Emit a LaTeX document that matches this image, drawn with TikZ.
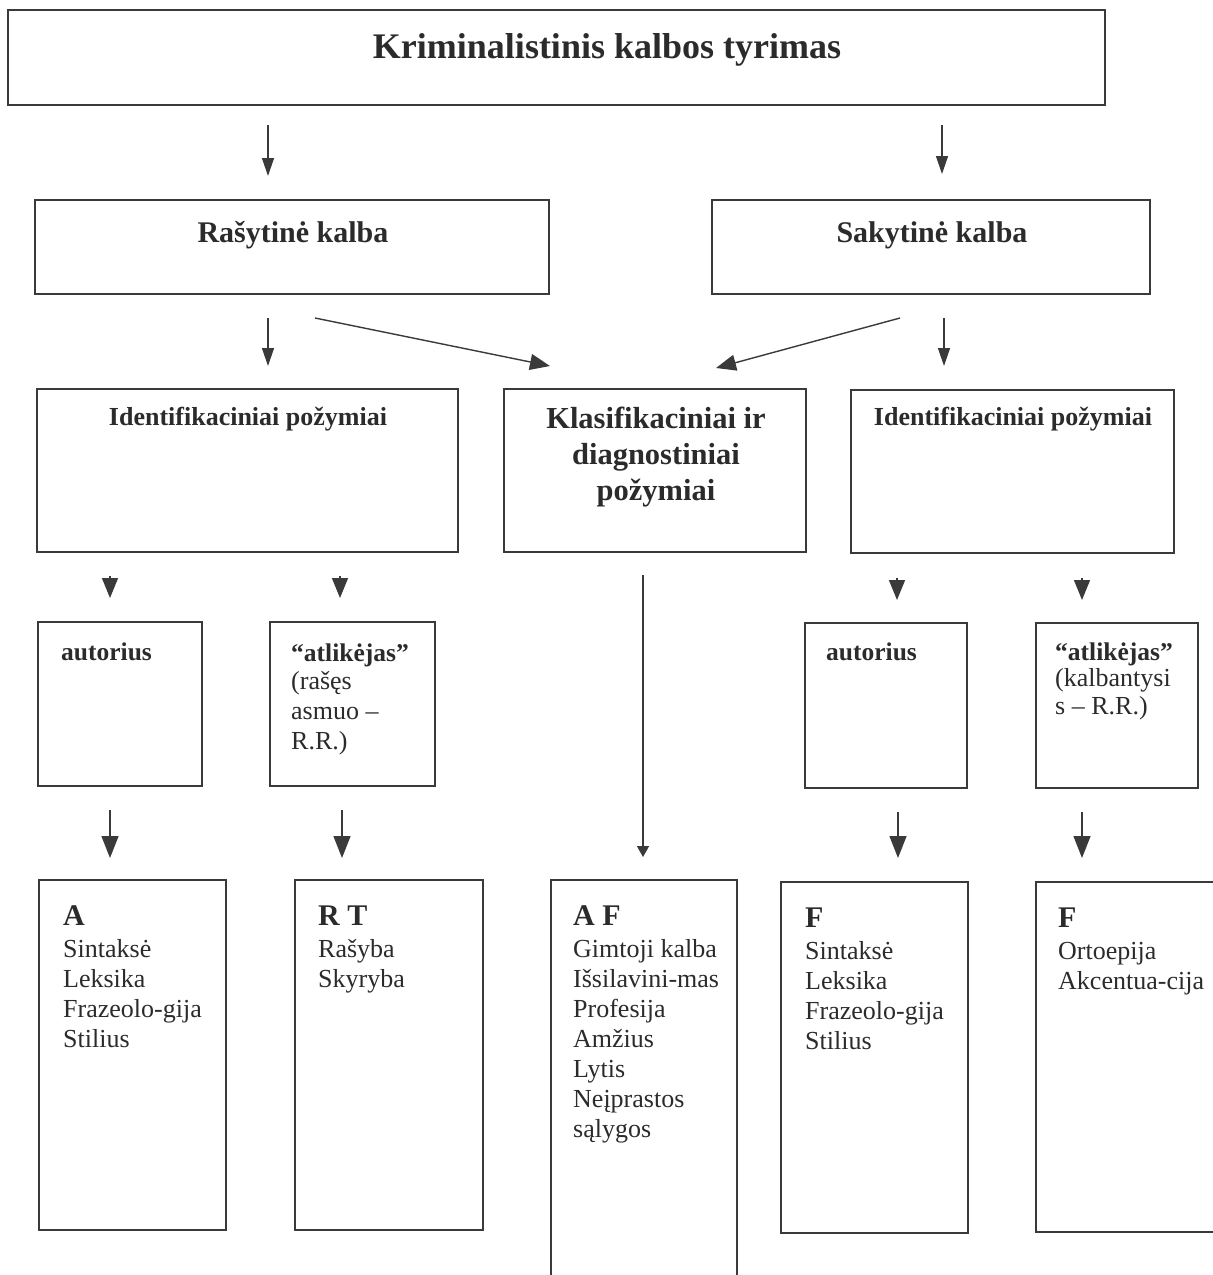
\documentclass[tikz,border=0pt]{standalone}
\usepackage{fontspec}
\setmainfont{Liberation Serif}
\usetikzlibrary{arrows.meta}
\definecolor{ink}{HTML}{2B2B2B}
\definecolor{edge}{HTML}{3A3A3A}
\tikzset{
  box/.style={draw=edge, line width=1.4pt, inner sep=0pt, rectangle},
  txt/.style={inner sep=0pt, text=ink},
  arr/.style={draw=edge, line width=1.4pt, -{Triangle[length=18pt,width=12pt]}},
  arrs/.style={draw=edge, line width=1.4pt, -{Triangle[length=20pt,width=16pt]}},
  arrb/.style={draw=edge, line width=1.4pt, -{Triangle[length=22pt,width=17pt]}},
  arrt/.style={draw=edge, line width=1.4pt, -{Triangle[length=11pt,width=12pt]}},
  fTitle/.style={font=\fontsize{36}{40}\selectfont\bfseries},
  fHead/.style={font=\fontsize{30}{34}\selectfont\bfseries},
  fKl/.style={font=\fontsize{30.5}{36}\selectfont\bfseries},
  fId/.style={font=\fontsize{26}{30}\selectfont\bfseries},
  fAut/.style={font=\fontsize{25.5}{30}\selectfont\bfseries},
  fBody/.style={font=\fontsize{26}{30}\selectfont},
}
\newcommand{\hdr}[1]{{\fontsize{30}{30}\selectfont\bfseries #1}}
\newcommand{\bld}[1]{{\fontsize{25.5}{30}\selectfont\bfseries #1}}
\begin{document}
\begin{tikzpicture}[x=1pt,y=-1pt]
\useasboundingbox (0,0) rectangle (1213,1275);
% boxes
\node[box, minimum width=1097pt, minimum height=95pt] (title) at (556.5,57.5) {};
\node[box, minimum width=514pt, minimum height=94pt] (rasyt) at (292,247) {};
\node[box, minimum width=438pt, minimum height=94pt] (sakyt) at (931,247) {};
\node[box, minimum width=421pt, minimum height=163pt] (idL) at (247.5,470.5) {};
\node[box, minimum width=302pt, minimum height=163pt] (klas) at (655,470.5) {};
\node[box, minimum width=323pt, minimum height=163pt] (idR) at (1012.5,471.5) {};
\node[box, minimum width=164pt, minimum height=164pt] (autL) at (120,704) {};
\node[box, minimum width=165pt, minimum height=164pt] (atlL) at (352.5,704) {};
\node[box, minimum width=162pt, minimum height=165pt] (autR) at (886,705.5) {};
\node[box, minimum width=162pt, minimum height=165pt] (atlR) at (1117,705.5) {};
\node[box, minimum width=187pt, minimum height=350pt] (bA) at (132.5,1055) {};
\node[box, minimum width=188pt, minimum height=350pt] (bRT) at (389,1055) {};
\node[box, minimum width=186pt, minimum height=420pt] (bAF) at (644,1090) {};
\node[box, minimum width=187pt, minimum height=351pt] (bF) at (874.5,1057.5) {};
\node[box, minimum width=194pt, minimum height=350pt] (bF2) at (1133,1057) {};
% texts
\node[txt, fTitle, anchor=base] (tTitle) at (607,58) {Kriminalistinis kalbos tyrimas};
\node[txt, fHead, anchor=base] (tRas) at (293,242) {Rašytinė kalba};
\node[txt, fHead, anchor=base] (tSak) at (932,242) {Sakytinė kalba};
\node[txt, fId, anchor=base] (tIdL) at (248,425) {Identifikaciniai požymiai};
\node[txt, fId, anchor=base] (tIdR) at (1013,425) {Identifikaciniai požymiai};
\node[txt, fKl, anchor=base] (tKl1) at (656,428) {Klasifikaciniai ir};
\node[txt, fKl, anchor=base] (tKl2) at (656,464) {diagnostiniai};
\node[txt, fKl, anchor=base] (tKl3) at (656,500) {požymiai};
\node[txt, fAut, anchor=base west] (tAutL) at (61,660) {autorius};
\node[txt, fAut, anchor=base west] (tAutR) at (826,660) {autorius};
\node[txt, fBody, anchor=base west] (tAtlL) at (291,661)
  {\begin{tabular}[t]{@{}l@{}}\bld{“atlikėjas”}\\[-2pt] (rašęs\\ asmuo –\\ R.R.)\end{tabular}};
\node[txt, fBody, anchor=base west] (tAtlR) at (1055,660)
  {\begin{tabular}[t]{@{}l@{}}\bld{“atlikėjas”}\\[-4pt] (kalbantysi\\[-2pt] s – R.R.)\end{tabular}};
\node[txt, fBody, anchor=base west] (tA) at (63,925)
  {\begin{tabular}[t]{@{}l@{}}\hdr{A}\\[2pt] Sintaksė\\ Leksika\\ Frazeolo-gija\\ Stilius\end{tabular}};
\node[txt, fBody, anchor=base west] (tRT) at (318,925)
  {\begin{tabular}[t]{@{}l@{}}\hdr{R T}\\[2pt] Rašyba\\ Skyryba\end{tabular}};
\node[txt, fBody, anchor=base west] (tAF) at (573,925)
  {\begin{tabular}[t]{@{}l@{}}\hdr{A F}\\[2pt] Gimtoji kalba\\ Išsilavini-mas\\ Profesija\\ Amžius\\ Lytis\\ Neįprastos\\ sąlygos\end{tabular}};
\node[txt, fBody, anchor=base west] (tF) at (805,927)
  {\begin{tabular}[t]{@{}l@{}}\hdr{F}\\[2pt] Sintaksė\\ Leksika\\ Frazeolo-gija\\ Stilius\end{tabular}};
\node[txt, fBody, anchor=base west] (tF2) at (1058,927)
  {\begin{tabular}[t]{@{}l@{}}\hdr{F}\\[2pt] Ortoepija\\ Akcentua-cija\end{tabular}};
% arrow end points
\coordinate (a1s) at (268,125); \coordinate (a1e) at (268,176);
\coordinate (a2s) at (942,125); \coordinate (a2e) at (942,174);
\coordinate (b1s) at (268,318); \coordinate (b1e) at (268,366);
\coordinate (b2s) at (315,318); \coordinate (b2e) at (550,366);
\coordinate (b3s) at (900,318); \coordinate (b3e) at (716,368);
\coordinate (b4s) at (944,318); \coordinate (b4e) at (944,366);
\coordinate (c1s) at (110,576); \coordinate (c1e) at (110,598);
\coordinate (c2s) at (340,576); \coordinate (c2e) at (340,598);
\coordinate (c3s) at (897,578); \coordinate (c3e) at (897,600);
\coordinate (c4s) at (1082,578); \coordinate (c4e) at (1082,600);
\coordinate (ls) at (643,575); \coordinate (le) at (643,857);
\coordinate (d1s) at (110,810); \coordinate (d1e) at (110,858);
\coordinate (d2s) at (342,810); \coordinate (d2e) at (342,858);
\coordinate (d3s) at (898,812); \coordinate (d3e) at (898,858);
\coordinate (d4s) at (1082,812); \coordinate (d4e) at (1082,858);
% arrows
\draw[arr] (a1s) -- (a1e);
\draw[arr] (a2s) -- (a2e);
\draw[arr] (b1s) -- (b1e);
\draw[arrs] (b2s) -- (b2e);
\draw[arrs] (b3s) -- (b3e);
\draw[arr] (b4s) -- (b4e);
\draw[arrs] (c1s) -- (c1e);
\draw[arrs] (c2s) -- (c2e);
\draw[arrs] (c3s) -- (c3e);
\draw[arrs] (c4s) -- (c4e);
\draw[arrt] (ls) -- (le);
\draw[arrb] (d1s) -- (d1e);
\draw[arrb] (d2s) -- (d2e);
\draw[arrb] (d3s) -- (d3e);
\draw[arrb] (d4s) -- (d4e);
\end{tikzpicture}
\end{document}
